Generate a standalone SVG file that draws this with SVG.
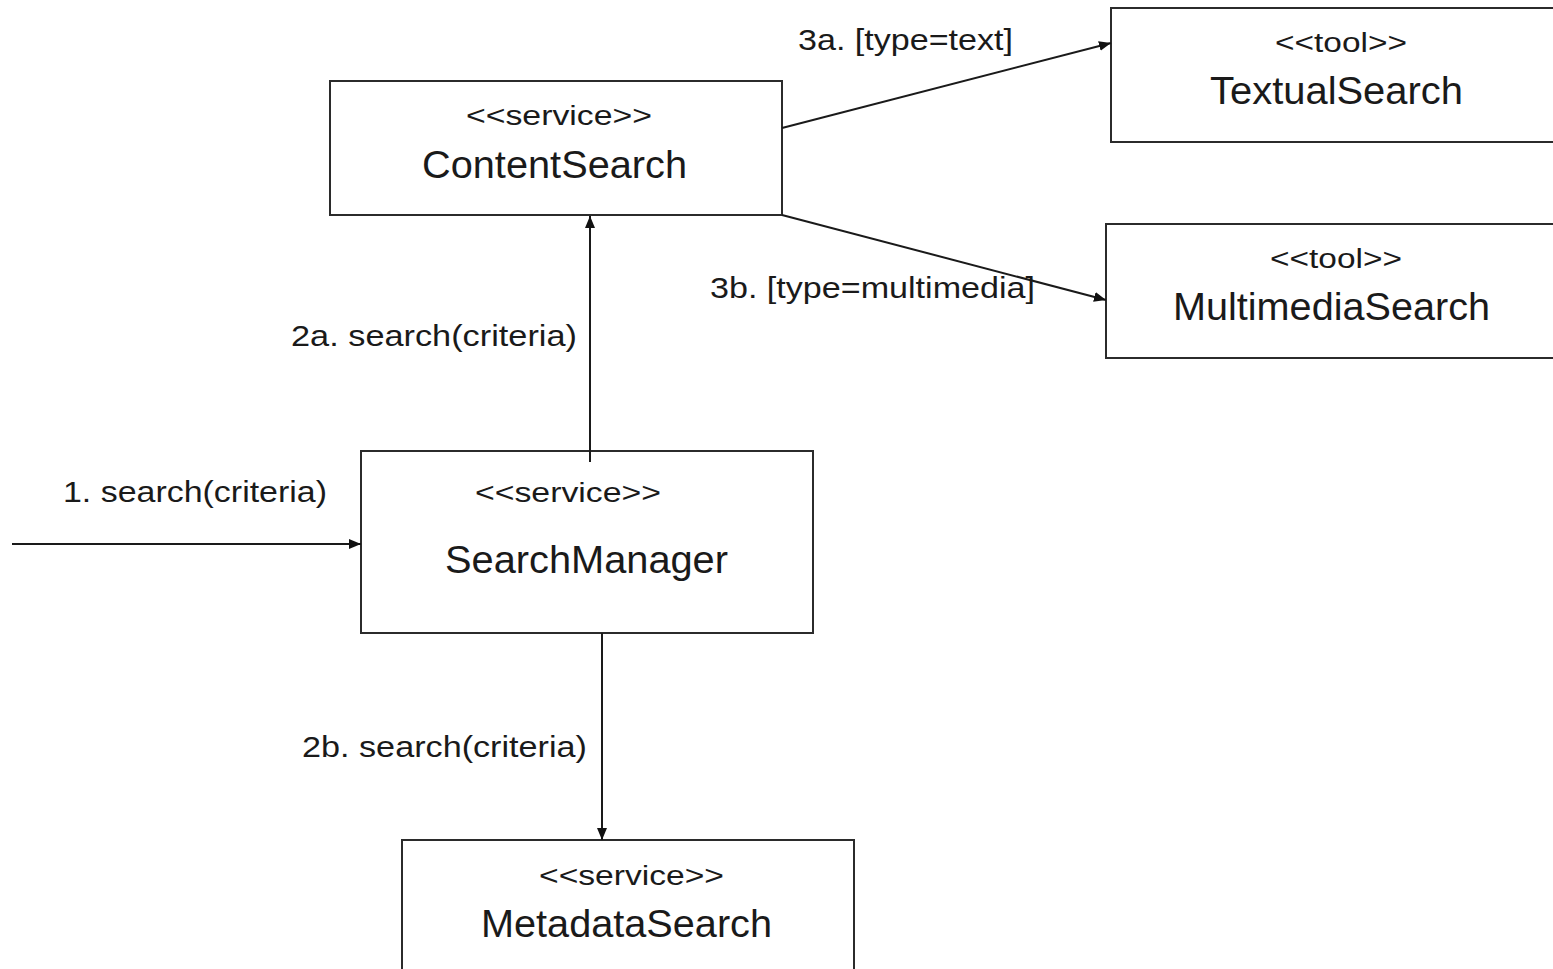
<svg xmlns="http://www.w3.org/2000/svg" width="1553" height="969" viewBox="0 0 1553 969">
  <style>
    .box { fill: #ffffff; stroke: #2b2b2b; stroke-width: 2; }
    .stereo { font-family: "Liberation Sans", Arial, sans-serif; font-size: 27px; fill: #1a1a1a; text-anchor: middle; }
    .name { font-family: "Liberation Sans", Arial, sans-serif; font-size: 38px; fill: #1a1a1a; text-anchor: middle; }
    .label { font-family: "Liberation Sans", Arial, sans-serif; font-size: 29px; fill: #1a1a1a; }
    .conn { stroke: #1a1a1a; stroke-width: 2; fill: none; marker-end: url(#arrow); }
  </style>
  <defs>
    <marker id="arrow" viewBox="0 0 12 10" refX="12" refY="5" markerWidth="12" markerHeight="10" markerUnits="userSpaceOnUse" orient="auto">
      <path d="M0,0 L12,5 L0,10 Z" fill="#111111"/>
    </marker>
  </defs>
  <rect width="1553" height="969" fill="#ffffff"/>

  <!-- nodes -->
  <g id="content-search">
    <rect class="box" x="330" y="81" width="452" height="134"/>
    <text class="stereo" x="559" y="125" textLength="186" lengthAdjust="spacingAndGlyphs">&lt;&lt;service&gt;&gt;</text>
    <text class="name" x="554.5" y="178" textLength="265" lengthAdjust="spacingAndGlyphs">ContentSearch</text>
  </g>
  <g id="textual-search">
    <rect class="box" x="1111" y="8" width="460" height="134"/>
    <text class="stereo" x="1341" y="52" textLength="132" lengthAdjust="spacingAndGlyphs">&lt;&lt;tool&gt;&gt;</text>
    <text class="name" x="1336.5" y="104" textLength="253" lengthAdjust="spacingAndGlyphs">TextualSearch</text>
  </g>
  <g id="multimedia-search">
    <rect class="box" x="1106" y="224" width="465" height="134"/>
    <text class="stereo" x="1336" y="268" textLength="132" lengthAdjust="spacingAndGlyphs">&lt;&lt;tool&gt;&gt;</text>
    <text class="name" x="1331.5" y="320" textLength="317" lengthAdjust="spacingAndGlyphs">MultimediaSearch</text>
  </g>
  <g id="search-manager">
    <rect class="box" x="361" y="451" width="452" height="182"/>
    <text class="stereo" x="568" y="502" textLength="186" lengthAdjust="spacingAndGlyphs">&lt;&lt;service&gt;&gt;</text>
    <text class="name" x="586.5" y="573" textLength="283" lengthAdjust="spacingAndGlyphs">SearchManager</text>
  </g>
  <g id="metadata-search">
    <rect class="box" x="402" y="840" width="452" height="160"/>
    <text class="stereo" x="631.5" y="885" textLength="185" lengthAdjust="spacingAndGlyphs">&lt;&lt;service&gt;&gt;</text>
    <text class="name" x="626.5" y="937" textLength="291" lengthAdjust="spacingAndGlyphs">MetadataSearch</text>
  </g>

  <!-- connectors -->
  <g id="connectors">
    <line class="conn" x1="12" y1="544" x2="361" y2="544"/>
    <line class="conn" x1="590" y1="462" x2="590" y2="216"/>
    <line class="conn" x1="602" y1="633" x2="602" y2="840"/>
    <line class="conn" x1="782" y1="128" x2="1111" y2="43"/>
    <line class="conn" x1="782" y1="215" x2="1106" y2="300"/>
    <text class="label" x="63" y="502" textLength="264" lengthAdjust="spacingAndGlyphs">1. search(criteria)</text>
    <text class="label" x="291" y="346" textLength="286" lengthAdjust="spacingAndGlyphs">2a. search(criteria)</text>
    <text class="label" x="302" y="757" textLength="285" lengthAdjust="spacingAndGlyphs">2b. search(criteria)</text>
    <text class="label" x="798" y="50" textLength="215" lengthAdjust="spacingAndGlyphs">3a. [type=text]</text>
    <text class="label" x="710" y="298" textLength="325" lengthAdjust="spacingAndGlyphs">3b. [type=multimedia]</text>
  </g>
</svg>
